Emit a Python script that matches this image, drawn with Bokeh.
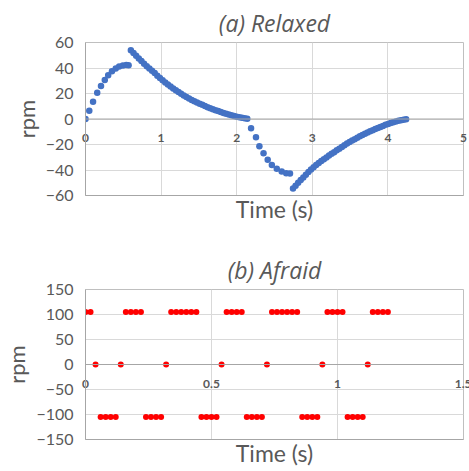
from bokeh.plotting import figure
from bokeh.models import FixedTicker, Range1d, Span
from bokeh.layouts import column
from bokeh.embed import file_html
from bokeh.resources import INLINE

# ---------------- data: (a) Relaxed ----------------
relaxed_time = [
    0.000, 0.050, 0.100, 0.155, 0.205, 0.255, 0.300, 0.350, 0.400, 0.445, 0.495, 0.540, 0.570,
    0.600, 0.635, 0.670, 0.705, 0.740, 0.775, 0.810, 0.845, 0.880, 0.915, 0.950, 0.985,
    1.020, 1.055, 1.090, 1.125, 1.160, 1.195, 1.230, 1.265, 1.300, 1.335, 1.370, 1.405,
    1.440, 1.475, 1.510, 1.545, 1.580, 1.615, 1.650, 1.685, 1.720, 1.755, 1.790, 1.825,
    1.860, 1.895, 1.930, 1.965, 2.000, 2.035, 2.070, 2.105, 2.140,
    2.190, 2.255, 2.300, 2.355, 2.410, 2.465, 2.530, 2.595, 2.655, 2.705,
    2.745, 2.779, 2.813, 2.847, 2.881, 2.915, 2.949, 2.983, 3.017, 3.051, 3.085, 3.119,
    3.153, 3.187, 3.221, 3.255, 3.289, 3.323, 3.357, 3.391, 3.425, 3.459, 3.493, 3.527,
    3.561, 3.595, 3.629, 3.663, 3.697, 3.731, 3.765, 3.799, 3.833, 3.867, 3.901, 3.935,
    3.969, 4.003, 4.037, 4.071, 4.105, 4.139, 4.173, 4.207, 4.241,
]
relaxed_rpm = [
    0.0, 6.5, 13.5, 20.6, 25.8, 30.5, 34.4, 37.5, 39.6, 41.2, 42.0, 42.3, 42.2,
    54.0, 51.8, 49.6, 47.5, 45.4, 43.3, 41.4, 39.6, 37.9, 36.0, 34.0, 32.1,
    30.3, 28.6, 27.0, 25.5, 24.0, 22.6, 21.1, 19.8, 18.5, 17.3, 16.1, 15.0,
    14.0, 13.0, 12.0, 11.1, 10.2, 9.3, 8.5, 7.7, 6.9, 6.2, 5.5, 4.8,
    4.1, 3.5, 2.9, 2.3, 1.8, 1.3, 0.9, 0.5, 0.2,
    -7.3, -14.4, -21.4, -26.9, -32.0, -36.0, -39.1, -41.2, -42.5, -42.8,
    -54.6, -52.3, -50.0, -47.9, -45.8, -43.7, -41.6, -39.6, -37.8, -36.1, -34.5, -33.0,
    -31.6, -30.2, -28.7, -27.3, -26.0, -24.6, -23.3, -22.0, -20.6, -19.3, -18.0, -16.9,
    -15.8, -14.7, -13.6, -12.5, -11.5, -10.6, -9.7, -8.8, -7.9, -7.0, -6.2, -5.4,
    -4.6, -3.9, -3.2, -2.6, -2.0, -1.4, -0.9, -0.5, -0.1,
]
relaxed_xticks = [0, 1, 2, 3, 4, 5]
relaxed_xlabels = ["0", "1", "2", "3", "4", "5"]
relaxed_yticks = [-60, -40, -20, 0, 20, 40, 60]

# ---------------- data: (b) Afraid ----------------
afraid_time = [
    0.00, 0.02, 0.04, 0.06, 0.08, 0.10, 0.12, 0.14, 0.16, 0.18, 0.20, 0.22,
    0.24, 0.26, 0.28, 0.30, 0.32, 0.34, 0.36, 0.38, 0.40, 0.42, 0.44, 0.46,
    0.48, 0.50, 0.52, 0.54, 0.56, 0.58, 0.60, 0.62, 0.64, 0.66, 0.68, 0.70,
    0.72, 0.74, 0.76, 0.78, 0.80, 0.82, 0.84, 0.86, 0.88, 0.90, 0.92, 0.94,
    0.96, 0.98, 1.00, 1.02, 1.04, 1.06, 1.08, 1.10, 1.12, 1.14, 1.16, 1.18, 1.20,
]
afraid_rpm = [
    105, 105, 0, -105, -105, -105, -105, 0, 105, 105, 105, 105,
    -105, -105, -105, -105, 0, 105, 105, 105, 105, 105, 105, -105,
    -105, -105, -105, 0, 105, 105, 105, 105, -105, -105, -105, -105,
    0, 105, 105, 105, 105, 105, 105, -105, -105, -105, -105, 0,
    105, 105, 105, 105, -105, -105, -105, -105, 0, 105, 105, 105, 105,
]
afraid_xticks = [0, 0.5, 1, 1.5]
afraid_xlabels = ["0", "0.5", "1", "1.5"]
afraid_yticks = [-150, -100, -50, 0, 50, 100, 150]

FONT = "Lato"
TITLE_FONT = "Open Sans"
TXT = "#595959"
GRID = "#d9d9d9"
AXIS = "#a6a6a6"


def make_fig(title, x, y, color, size, xr, yr, xticks, xlabels, yticks,
             frame_h, top, bottom, tick_shift):
    p = figure(frame_width=378, frame_height=frame_h,
               min_border_left=83, min_border_right=8,
               min_border_top=top, min_border_bottom=bottom,
               x_range=Range1d(*xr), y_range=Range1d(*yr),
               output_backend="svg", toolbar_location=None,
               background_fill_color="white", border_fill_color="white")
    p.title.text = title
    p.title.align = "center"
    p.title.text_font = TITLE_FONT
    p.title.text_font_style = "italic"
    p.title.text_font_size = "23px"
    p.title.text_color = TXT
    p.title.standoff = 8

    p.outline_line_color = "#bfbfbf"
    p.outline_line_width = 1

    # x axis: tick labels lifted up to sit just below the rpm = 0 line
    xa = p.xaxis[0]
    xa.ticker = FixedTicker(ticks=xticks)
    xa.major_label_overrides = {t: l for t, l in zip(xticks, xlabels)}
    xa.major_label_standoff = -tick_shift
    xa.major_label_text_font = FONT
    xa.major_label_text_font_size = "12px"
    xa.major_label_text_font_style = "bold"
    xa.major_label_text_color = TXT
    xa.axis_label = "Time (s)"
    xa.axis_label_text_font = FONT
    xa.axis_label_text_font_size = "23px"
    xa.axis_label_text_font_style = "normal"
    xa.axis_label_text_color = TXT
    xa.axis_label_standoff = tick_shift - 12
    xa.axis_line_color = AXIS
    xa.major_tick_out = 0
    xa.major_tick_in = 0
    xa.minor_tick_out = 0
    xa.minor_tick_in = 0

    ya = p.yaxis[0]
    ya.ticker = FixedTicker(ticks=yticks)
    ya.axis_label = "rpm"
    ya.axis_label_text_font = FONT
    ya.axis_label_text_font_size = "22px"
    ya.axis_label_text_font_style = "normal"
    ya.axis_label_text_color = TXT
    ya.axis_label_standoff = 3
    ya.axis_line_color = AXIS
    ya.major_tick_out = 0
    ya.major_tick_in = 0
    ya.minor_tick_out = 0
    ya.minor_tick_in = 0
    ya.major_label_standoff = 12
    ya.major_label_text_font = FONT
    ya.major_label_text_font_size = "16px"
    ya.major_label_text_color = TXT

    p.xgrid.ticker = FixedTicker(ticks=xticks)
    p.ygrid.ticker = FixedTicker(ticks=yticks)
    p.xgrid.grid_line_color = GRID
    p.ygrid.grid_line_color = GRID

    # horizontal axis line crossing at rpm = 0
    p.add_layout(Span(location=0, dimension="width", line_color=AXIS, line_width=1))

    p.scatter(x, y, size=size, color=color, line_color=None)
    return p


p1 = make_fig("(a) Relaxed", relaxed_time, relaxed_rpm, "#4472C4", 6.5,
              (0, 5), (-60, 60), relaxed_xticks, relaxed_xlabels, relaxed_yticks,
              153, 42, 45, 62)
p2 = make_fig("(b) Afraid", afraid_time, afraid_rpm, "#FF0000", 6,
              (0, 1.5), (-150, 150), afraid_xticks, afraid_xlabels, afraid_yticks,
              150, 49, 31, 60)

layout = column(p1, p2, spacing=0)
open("out.html", "w").write(file_html(layout, INLINE))
